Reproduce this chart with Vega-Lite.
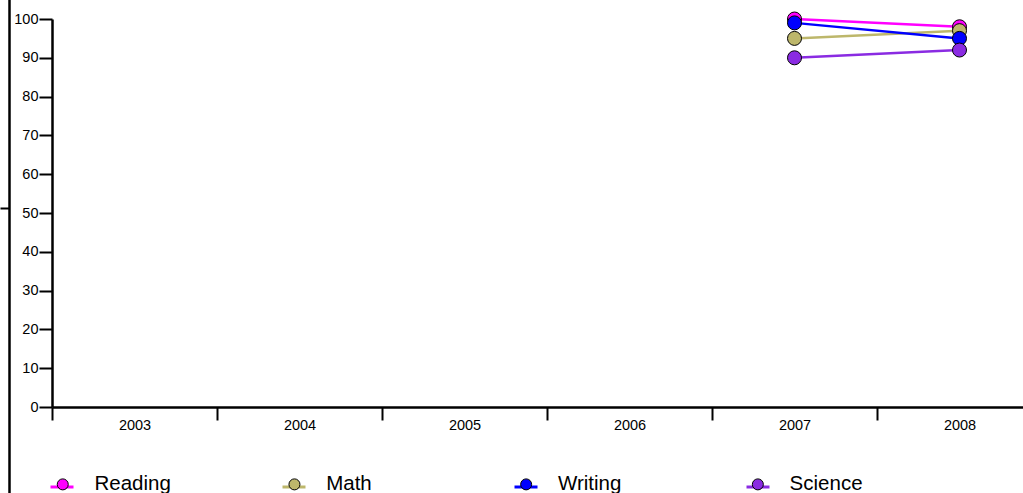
{
  "$schema": "https://vega.github.io/schema/vega-lite/v6.json",
  "autosize": {"type": "none"},
  "padding": {"left": 52, "top": 19, "right": 0, "bottom": 86},
  "width": 971,
  "height": 388,
  "background": "white",
  "config": {
    "view": {"stroke": null},
    "font": "Liberation Sans",
    "axis": {
      "labelFont": "Liberation Sans",
      "labelColor": "black",
      "domainColor": "black",
      "tickColor": "black",
      "grid": false
    },
    "legend": {"labelFont": "Liberation Sans", "labelColor": "black"}
  },
  "data": {
    "values": [
      {"year": "2007", "subject": "Reading", "score": 100},
      {"year": "2007", "subject": "Math", "score": 95},
      {"year": "2007", "subject": "Writing", "score": 99},
      {"year": "2007", "subject": "Science", "score": 90},
      {"year": "2008", "subject": "Reading", "score": 98},
      {"year": "2008", "subject": "Math", "score": 97},
      {"year": "2008", "subject": "Writing", "score": 95},
      {"year": "2008", "subject": "Science", "score": 92}
    ]
  },
  "layer": [
    {
      "encoding": {
        "x": {
          "field": "year",
          "type": "ordinal",
          "scale": {
            "type": "band",
            "domain": ["2003", "2004", "2005", "2006", "2007", "2008"],
            "range": [0, 990],
            "paddingInner": 0,
            "paddingOuter": 0
          },
          "axis": {
            "title": null,
            "tickBand": "extent",
            "tickSize": 13,
            "tickWidth": 2,
            "domainWidth": 2.5,
            "labelFontSize": 14.5,
            "labelPadding": -2,
            "labelAngle": 0
          }
        },
        "y": {
          "field": "score",
          "type": "quantitative",
          "scale": {"domain": [0, 100], "nice": false, "zero": true},
          "axis": {
            "title": null,
            "values": [0, 10, 20, 30, 40, 50, 60, 70, 80, 90, 100],
            "tickSize": 13,
            "tickWidth": 2,
            "domainWidth": 2.5,
            "labelFontSize": 14.5,
            "labelPadding": 1
          }
        }
      },
      "layer": [
        {
          "mark": {"type": "line", "strokeWidth": 2.5},
          "encoding": {
            "color": {
              "field": "subject",
              "type": "nominal",
              "scale": {
                "domain": ["Reading", "Math", "Writing", "Science"],
                "range": ["#FF00FF", "#BDB76B", "#0000FF", "#8A2BE2"]
              },
              "legend": {
                "title": null,
                "orient": "none",
                "direction": "horizontal",
                "columns": 4,
                "gridAlign": "all",
                "columnPadding": 196,
                "legendX": -3,
                "legendY": 455,
                "padding": 0,
                "symbolType": "stroke",
                "symbolSize": 529,
                "symbolStrokeWidth": 3,
                "labelOffset": 0,
                "labelFontSize": 20,
                "labelExpr": "''"
              }
            }
          }
        },
        {
          "mark": {"type": "point", "filled": true, "size": 196, "stroke": "black", "strokeWidth": 1, "opacity": 1},
          "encoding": {
            "color": {
              "field": "subject",
              "type": "nominal",
              "scale": {
                "domain": ["Reading", "Math", "Writing", "Science"],
                "range": ["#FF00FF", "#BDB76B", "#0000FF", "#8A2BE2"]
              },
              "legend": {
                "title": null,
                "orient": "none",
                "direction": "horizontal",
                "columns": 4,
                "gridAlign": "all",
                "columnPadding": 112.7,
                "legendX": 0.5,
                "legendY": 455,
                "padding": 0,
                "symbolType": "circle",
                "symbolSize": 121,
                "symbolStrokeColor": "black",
                "symbolStrokeWidth": 1,
                "symbolOpacity": 1,
                "labelOffset": 21.5,
                "labelFontSize": 20.5,
                "labelLimit": 300
              }
            }
          }
        }
      ],
      "resolve": {"scale": {"color": "independent"}, "legend": {"color": "independent"}}
    },
    {
      "mark": {"type": "point", "opacity": 0},
      "encoding": {
        "y": {
          "datum": 0.5,
          "type": "quantitative",
          "scale": {"domain": [0, 1], "range": [504, -126], "nice": false, "zero": false},
          "axis": {
            "orient": "left",
            "offset": 43,
            "values": [0.5],
            "labels": false,
            "title": null,
            "tickSize": 9,
            "tickWidth": 2,
            "domainWidth": 2.5,
            "grid": false
          }
        }
      }
    }
  ],
  "resolve": {"scale": {"y": "independent"}, "axis": {"y": "independent"}}
}
